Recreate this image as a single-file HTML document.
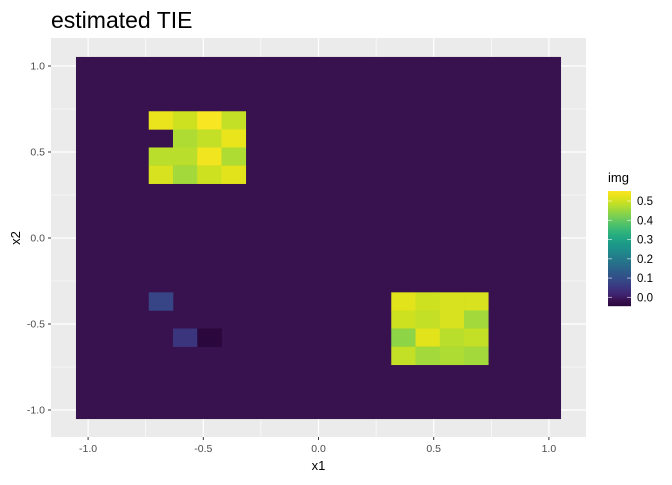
<!DOCTYPE html>
<html><head><meta charset="utf-8"><style>
body{margin:0;background:#fff;font-family:"Liberation Sans",sans-serif;}
svg text{font-family:"Liberation Sans",sans-serif;}
</style></head><body>
<svg id="chart" width="672" height="480">
<text x="51" y="28" font-size="23" fill="#000">estimated TIE</text>
<rect x="51" y="38" width="535" height="399" fill="#ebebeb"/>
<g id="grid"></g><g id="cells"></g><g id="axes"></g><g id="legend"></g>
</svg>
<script>
const n = 20;
const bgValue = -0.015;
const cellX = [3,4,5,6, 4,5,6, 3,4,5,6, 3,4,5,6, 13,14,15,16, 13,14,15,16, 13,14,15,16, 13,14,15,16, 3,4,5];
const cellY = [16,16,16,16, 15,15,15, 14,14,14,14, 13,13,13,13, 6,6,6,6, 5,5,5,5, 4,4,4,4, 3,3,3,3, 6,4,4];
const cellVal = [0.53,0.50,0.55,0.49, 0.47,0.49,0.53, 0.48,0.48,0.54,0.47, 0.51,0.46,0.50,0.52,
  0.52,0.50,0.51,0.51, 0.50,0.49,0.51,0.46, 0.44,0.52,0.48,0.49, 0.49,0.46,0.47,0.46, 0.08,0.05,-0.045];
const xTicks = [-1.0,-0.5,0.0,0.5,1.0];
const xTickLabels = ["-1.0","-0.5","0.0","0.5","1.0"];
const yTicks = [-1.0,-0.5,0.0,0.5,1.0];
const yTickLabels = ["-1.0","-0.5","0.0","0.5","1.0"];
const legendTicks = [0.0,0.1,0.2,0.3,0.4,0.5];
const legendLabels = ["0.0","0.1","0.2","0.3","0.4","0.5"];
const vmin = -0.045, vmax = 0.552;

const NS="http://www.w3.org/2000/svg";
const sx = v => 318.5 + v*230.4;
const sy = v => 238 - v*172;
const step = 2/(n-1);
const vir = ["#2a073c","#38114f","#3f2370","#3c327c","#384284","#334f88","#2e5c8a","#296a8b","#25778b","#21838b","#1e908a","#1d9c87","#22a882","#32b47a","#4abf6d","#66c95e","#85d24c","#a6da38","#c7e024","#e4e31a","#fae623"];
function col(v){let t=(v-vmin)/(vmax-vmin);t=Math.max(0,Math.min(1,t))*(vir.length-1);
 const i=Math.min(Math.floor(t),vir.length-2),f=t-i;
 const a=vir[i],b=vir[i+1];const p=(h,k)=>parseInt(h.substr(k,2),16);
 let r=[1,3,5].map(k=>Math.round(p(a,k)+(p(b,k)-p(a,k))*f));
 return "rgb("+r.join(",")+")";}
function el(tag,attrs,parent){const e=document.createElementNS(NS,tag);for(const k in attrs)e.setAttribute(k,attrs[k]);parent.appendChild(e);return e;}
const grid=document.getElementById("grid");
[-0.75,-0.25,0.25,0.75].forEach(v=>{
 let l=el("line",{x1:sx(v),x2:sx(v),y1:38,y2:437,stroke:"#fff","stroke-width":0.6},grid);
 
 
 let m=el("line",{y1:sy(v),y2:sy(v),x1:51,x2:586,stroke:"#fff","stroke-width":0.6},grid);
 
 });
xTicks.forEach(v=>{let l=el("line",{x1:sx(v),x2:sx(v),y1:38,y2:437,stroke:"#fff","stroke-width":1.2},grid);
 
 });
yTicks.forEach(v=>{let l=el("line",{y1:sy(v),y2:sy(v),x1:51,x2:586,stroke:"#fff","stroke-width":1.2},grid);
 
 });
const cells=document.getElementById("cells");
const h=step/2;
let bg=el("rect",{x:sx(-1-h),y:sy(1+h),width:sx(1+h)-sx(-1-h),height:sy(-1-h)-sy(1+h),fill:col(bgValue)},cells);


for(let k=0;k<cellVal.length;k++){
 const cx=-1+cellX[k]*step, cy=-1+cellY[k]*step;
 let r=el("rect",{x:sx(cx-h),y:sy(cy+h),width:sx(cx+h)-sx(cx-h)+0.3,height:sy(cy-h)-sy(cy+h)+0.3,fill:col(cellVal[k])},cells);
 
 }
const axes=document.getElementById("axes");
xTicks.forEach((v,i)=>{
 el("line",{x1:sx(v),x2:sx(v),y1:437,y2:440,stroke:"#333","stroke-width":1},axes);
 let t=el("text",{x:sx(v),y:452,"font-size":"10.5","text-anchor":"middle",fill:"#4d4d4d"},axes);
 t.textContent=xTickLabels[i];
 
 });
yTicks.forEach((v,i)=>{
 el("line",{x1:48,x2:51,y1:sy(v),y2:sy(v),stroke:"#333","stroke-width":1},axes);
 let t=el("text",{x:45,y:sy(v)+3.5,"font-size":"10.5","text-anchor":"end",fill:"#4d4d4d"},axes);
 t.textContent=yTickLabels[i];
 
 });
let xt=el("text",{x:318.5,y:470,"font-size":"13","text-anchor":"middle",fill:"#000"},axes);xt.textContent="x1";


let yt=el("text",{x:0,y:0,"font-size":"13","text-anchor":"middle",fill:"#000",transform:"translate(20,238) rotate(-90)"},axes);yt.textContent="x2";


const lg=document.getElementById("legend");
let lt=el("text",{x:608,y:182,"font-size":"13",fill:"#000"},lg);lt.textContent="img";


const barTop=191,barBot=306,ly=v=>barBot-(v-vmin)/(vmax-vmin)*(barBot-barTop);
for(let i=0;i<115;i++){const v=vmin+(vmax-vmin)*(i+0.5)/115;
 el("rect",{x:608,y:barBot-i-1,width:23,height:1.2,fill:col(v)},lg);}
legendTicks.forEach((v,i)=>{
 el("line",{x1:608,x2:612,y1:ly(v),y2:ly(v),stroke:"#fff","stroke-width":0.8,opacity:0.7},lg);
 el("line",{x1:627,x2:631,y1:ly(v),y2:ly(v),stroke:"#fff","stroke-width":0.8,opacity:0.7},lg);
 let t=el("text",{x:637,y:ly(v)+4,"font-size":"11.5",fill:"#000"},lg);t.textContent=legendLabels[i];
 
 });
</script>
</body></html>
